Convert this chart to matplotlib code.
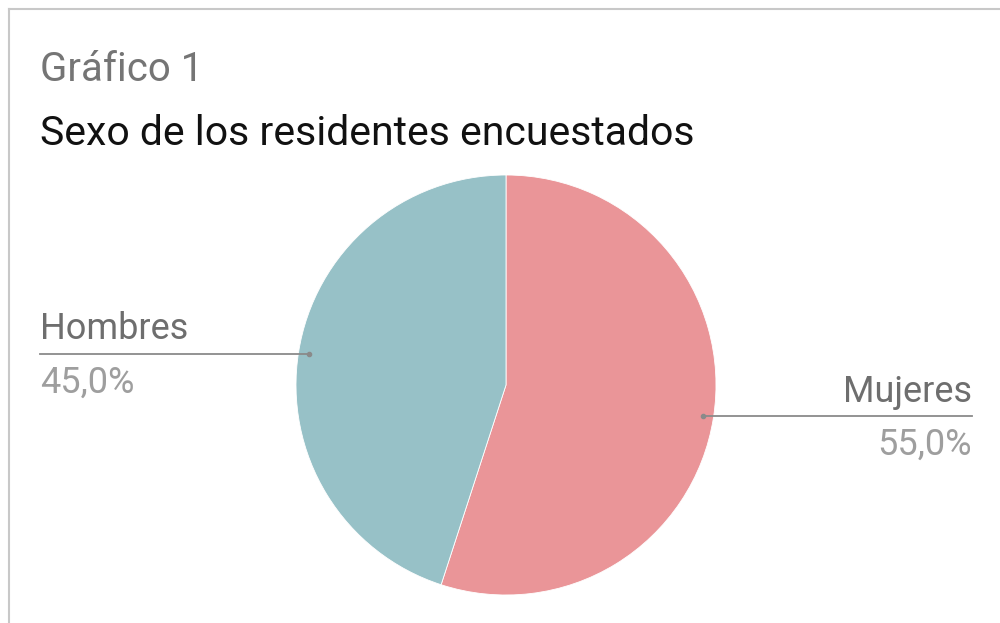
import numpy as np
import matplotlib.pyplot as plt
import matplotlib.transforms as mtransforms

plt.rcParams['font.family'] = ['Roboto', 'DejaVu Sans']

labels = ['Mujeres', 'Hombres']
values = [55.0, 45.0]
colors = ['#ea9598', '#97c1c7']

W, H = 1000, 623
fig = plt.figure(figsize=(W / 100, H / 100), dpi=100)

# light frame (top and left edges visible in the reference)
fig.add_artist(plt.Line2D([9 / W, 1], [1 - 9 / H, 1 - 9 / H], color='#c8c8c8', lw=1.5))
fig.add_artist(plt.Line2D([9 / W, 9 / W], [0, 1 - 9 / H], color='#c8c8c8', lw=1.5))

fig.text(40 / W, 1 - 81 / H, 'Gráfico 1', fontsize=29, color='#757575', va='baseline')
fig.text(40 / W, 1 - 145 / H, 'Sexo de los residentes encuestados', fontsize=29.5,
         color='#111111', va='baseline')

cx, cy, r = 506, 385, 210
ax = fig.add_axes([(cx - r) / W, 1 - (cy + r) / H, 2 * r / W, 2 * r / H])
wedges, _ = ax.pie(values, colors=colors, startangle=90, counterclock=False,
                   radius=1, wedgeprops=dict(edgecolor='white', linewidth=0.6))
ax.set_xlim(-1, 1)
ax.set_ylim(-1, 1)
ax.set_aspect('equal')
ax.axis('off')

trans = mtransforms.blended_transform_factory(fig.transFigure, ax.transData)
for w, lab, val in zip(wedges, labels, values):
    ang = np.deg2rad((w.theta1 + w.theta2) / 2)
    px, py = 0.95 * np.cos(ang), 0.95 * np.sin(ang)
    right = px > 0
    xend = 972 / W if right else 40 / W
    xstart_fig = fig.transFigure.inverted().transform(ax.transData.transform((px, py)))[0]
    fig.add_artist(plt.Line2D([xstart_fig, xend], [py, py], transform=trans,
                              color='#8a8a8a', lw=1.3))
    ax.plot([px], [py], 'o', ms=3, color='#8a8a8a', clip_on=False)
    ha = 'right' if right else 'left'
    ax.annotate(lab, xy=(xend, py), xycoords=trans, xytext=(0, 10.5),
                textcoords='offset points', ha=ha, va='baseline',
                fontsize=26, color='#6e6e6e')
    ax.annotate(f'{val:.1f}%'.replace('.', ','), xy=(xend, py), xycoords=trans,
                xytext=(0, -28), textcoords='offset points', ha=ha, va='baseline',
                fontsize=26, color='#9e9e9e')

fig.savefig('out.png', dpi=100)
